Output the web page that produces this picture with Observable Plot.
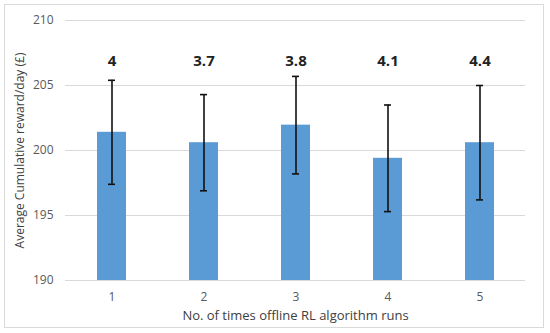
<!DOCTYPE html>
<html>
<head>
<meta charset="utf-8">
<script src="https://cdn.jsdelivr.net/npm/d3@7"></script>
<script src="https://cdn.jsdelivr.net/npm/@observablehq/plot@0.6"></script>
<style>
  html, body { margin: 0; padding: 0; background: #fff; }
  #wrap { position: relative; width: 550px; height: 333px; }
  #border { position: absolute; left: 4px; top: 4px; width: 538px; height: 322px; border: 1px solid #d9d9d9; pointer-events: none; }
</style>
</head>
<body>
<div id="wrap"><div id="border"></div></div>
<script>
const runs = ["1", "2", "3", "4", "5"];
const means = [201.4, 200.6, 201.95, 199.4, 200.6];
const errLow = [197.4, 196.9, 198.2, 195.3, 196.2];
const errHigh = [205.4, 204.3, 205.7, 203.5, 205.0];
const topLabels = ["4", "3.7", "3.8", "4.1", "4.4"];
const yTicks = [190, 195, 200, 205, 210];
const yTitle = "Average Cumulative reward/day (£)";
const xTitle = "No. of times offline RL algorithm runs";

const data = runs.map((r, i) => ({run: r, mean: means[i], lo: errLow[i], hi: errHigh[i], label: topLabels[i]}));

const font = "'Open Sans', sans-serif";
const chart = Plot.plot({
  width: 550,
  height: 333,
  marginTop: 20,
  marginBottom: 53,
  marginLeft: 65,
  marginRight: 25,
  style: {fontFamily: font, fontSize: "12px", color: "#595959", background: "transparent"},
  x: {domain: runs, paddingInner: 0.69, paddingOuter: 0.345, label: null},
  y: {domain: [190, 210], label: null},
  marks: [
    Plot.gridY(yTicks, {stroke: "#d9d9d9", strokeOpacity: 1, strokeWidth: 1}),
    Plot.barY(data, {x: "run", y1: 190, y2: "mean", fill: "#5b9bd5"}),
    Plot.ruleX(data, {x: "run", y1: "lo", y2: "hi", stroke: "#111", strokeWidth: 1.6}),
    Plot.tickY(data, {x: "run", y: "hi", stroke: "#111", strokeWidth: 1.6, insetLeft: 11, insetRight: 11}),
    Plot.tickY(data, {x: "run", y: "lo", stroke: "#111", strokeWidth: 1.6, insetLeft: 11, insetRight: 11}),
    Plot.text(data, {x: "run", y: 206.9, text: "label", fontWeight: "bold", fontSize: 15, fill: "#222"}),
    Plot.axisY({ticks: yTicks, tickSize: 0, tickPadding: 12, label: null, fontSize: 12}),
    Plot.axisX({tickSize: 0, tickPadding: 12, label: null}),
    Plot.text([yTitle], {frameAnchor: "left", textAnchor: "middle", dx: -45, rotate: -90, fontSize: 12, fill: "#404040"}),
    Plot.text([xTitle], {frameAnchor: "bottom", dy: 39, fontSize: 13, fill: "#404040"})
  ]
});
document.getElementById("wrap").appendChild(chart);
</script>
</body>
</html>
